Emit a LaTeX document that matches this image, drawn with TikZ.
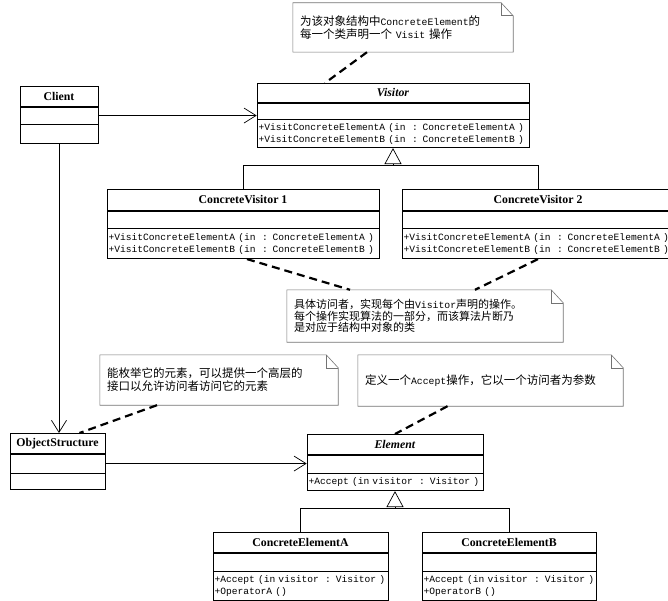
\documentclass[tikz,border=0pt]{standalone}
\usepackage{fontspec}
\setmainfont{Liberation Serif}
\setmonofont{Liberation Mono}
\newfontfamily\cjk{Noto Sans CJK SC}
\usepackage{tikz}
\usetikzlibrary{arrows.meta}
\newcommand\notelatin[1]{{\ttfamily\fontsize{9.8}{12}\selectfont #1}}

\tikzset{
  cls/.style={draw, line width=0.7pt, inner sep=0pt, anchor=north},
  clsname/.style={cls, font=\fontsize{11.8}{13}\selectfont\bfseries},
  clsops/.style={cls, inner xsep=1.5pt, align=left, font=\fontsize{9.6}{12}\selectfont\ttfamily},
  note/.style={inner xsep=7pt, inner ysep=0pt, align=left, font=\cjk\fontsize{11.5}{13}\selectfont},
  notebox/.style={draw=black!55, line width=0.6pt},
  notelink/.style={line width=2.2pt, dash pattern=on 8pt off 5pt},
  assoc/.style={line width=0.7pt, -{Straight Barb[length=12pt, width=15pt, line width=0.7pt]}},
  inherit/.style={line width=0.7pt},
  gen/.style={line width=0.7pt, -{Triangle[open, length=16pt, width=17pt, fill=white]}}
}

\begin{document}
\begin{tikzpicture}[x=1pt, y=-1pt]
\useasboundingbox (0,0) rectangle (668,601);

\node[clsname, minimum width=78pt, minimum height=20pt] (client) at (59,86) {Client};
\node[cls, minimum width=78pt, minimum height=17pt] (client-a) at (client.south) {};
\node[cls, minimum width=78pt, minimum height=19pt] (client-o) at (client-a.south) {};

\node[clsname, minimum width=272pt, minimum height=19pt] (visitor) at (393,83) {\textit{Visitor}};
\node[cls, minimum width=272pt, minimum height=16pt] (visitor-a) at (visitor.south) {};
\node[clsops, text width=269pt, minimum height=28pt] (visitor-o) at (visitor-a.south) {+VisitConcreteElementA (in~~: ConcreteElementA~)\\+VisitConcreteElementB (in~~: ConcreteElementB~)};

\node[clsname, minimum width=272pt, minimum height=21pt] (cv1) at (243,189) {ConcreteVisitor 1};
\node[cls, minimum width=272pt, minimum height=17pt] (cv1-a) at (cv1.south) {};
\node[clsops, text width=269pt, minimum height=30pt] (cv1-o) at (cv1-a.south) {+VisitConcreteElementA (in~~: ConcreteElementA~)\\+VisitConcreteElementB (in~~: ConcreteElementB~)};

\node[clsname, minimum width=272pt, minimum height=21pt] (cv2) at (538,189) {ConcreteVisitor 2};
\node[cls, minimum width=272pt, minimum height=17pt] (cv2-a) at (cv2.south) {};
\node[clsops, text width=269pt, minimum height=30pt] (cv2-o) at (cv2-a.south) {+VisitConcreteElementA (in~~: ConcreteElementA~)\\+VisitConcreteElementB (in~~: ConcreteElementB~)};

\node[clsname, minimum width=95pt, minimum height=20pt] (objstruct) at (57.5,433) {ObjectStructure};
\node[cls, minimum width=95pt, minimum height=19pt] (objstruct-a) at (objstruct.south) {};
\node[cls, minimum width=95pt, minimum height=16pt] (objstruct-o) at (objstruct-a.south) {};

\node[clsname, minimum width=176pt, minimum height=20pt] (element) at (395,434) {\textit{Element}};
\node[cls, minimum width=176pt, minimum height=18pt] (element-a) at (element.south) {};
\node[clsops, text width=173pt, minimum height=17pt] (element-o) at (element-a.south) {+Accept (in visitor~~: Visitor~)};

\node[clsname, minimum width=175pt, minimum height=20pt] (cea) at (300.5,532) {ConcreteElementA};
\node[cls, minimum width=175pt, minimum height=18pt] (cea-a) at (cea.south) {};
\node[clsops, text width=172pt, minimum height=29pt] (cea-o) at (cea-a.south) {+Accept (in visitor~~: Visitor~)\\+OperatorA~()};

\node[clsname, minimum width=174pt, minimum height=20pt] (ceb) at (509,532) {ConcreteElementB};
\node[cls, minimum width=174pt, minimum height=18pt] (ceb-a) at (ceb.south) {};
\node[clsops, text width=171pt, minimum height=29pt] (ceb-o) at (ceb-a.south) {+Accept (in visitor~~: Visitor~)\\+OperatorB~()};

\node[note, text width=206pt, minimum height=49pt] (topnote) at (403,27.5) {为该对象结构中\notelatin{ConcreteElement}的\\每一个类声明一个 \notelatin{Visit} 操作};
\node[note, text width=262pt, minimum height=52pt, font=\cjk\fontsize{11}{11.5}\selectfont] (midnote) at (425,316) {具体访问者，实现每个由\notelatin{Visitor}声明的操作。\\每个操作实现算法的一部分，而该算法片断乃\\是对应于结构中对象的类};
\node[note, text width=224pt, minimum height=50pt] (leftnote) at (219,380) {能枚举它的元素，可以提供一个高层的\\接口以允许访问者访问它的元素};
\node[note, text width=251pt, minimum height=51pt] (elemnote) at (490.5,380.5) {定义一个\notelatin{Accept}操作，它以一个访问者为参数};

\foreach \n in {topnote,midnote,leftnote,elemnote}{
  \draw[notebox] (\n.south west) -- (\n.north west) -- ([xshift=-12pt]\n.north east) -- ([yshift=-13pt]\n.north east) -- (\n.south east) -- cycle;
  \draw[notebox] ([xshift=-12pt]\n.north east) |- ([yshift=-13pt]\n.north east);
}

\draw[assoc] (client-a.east) -- (client-a.east -| visitor-a.west);
\draw[assoc] (client-o.south) -- (client-o.south |- objstruct.north);
\draw[assoc] (objstruct-a.east) -- (objstruct-a.east -| element-a.west);

\coordinate (vjoin) at ([yshift=-17pt]visitor-o.south);
\draw[inherit] (cv1.north) |- (vjoin) -| (cv2.north);
\draw[gen] (vjoin) -- (visitor-o.south);

\coordinate (ejoin) at ([yshift=-17pt]element-o.south);
\draw[inherit] (cea.north) |- (ejoin) -| (ceb.north);
\draw[gen] (ejoin) -- (element-o.south);

\draw[notelink] ([xshift=-36pt]topnote.south) -- ([xshift=-68pt]visitor.north);
\draw[notelink] ([xshift=4pt]cv1-o.south) -- ([xshift=-75pt]midnote.north);
\draw[notelink] ([xshift=0pt]cv2-o.south) -- ([xshift=50pt]midnote.north);
\draw[notelink] ([xshift=-62pt]leftnote.south) -- ([xshift=22pt]objstruct.north);
\draw[notelink] ([xshift=-43pt]elemnote.south) -- (element.north);
\end{tikzpicture}
\end{document}
